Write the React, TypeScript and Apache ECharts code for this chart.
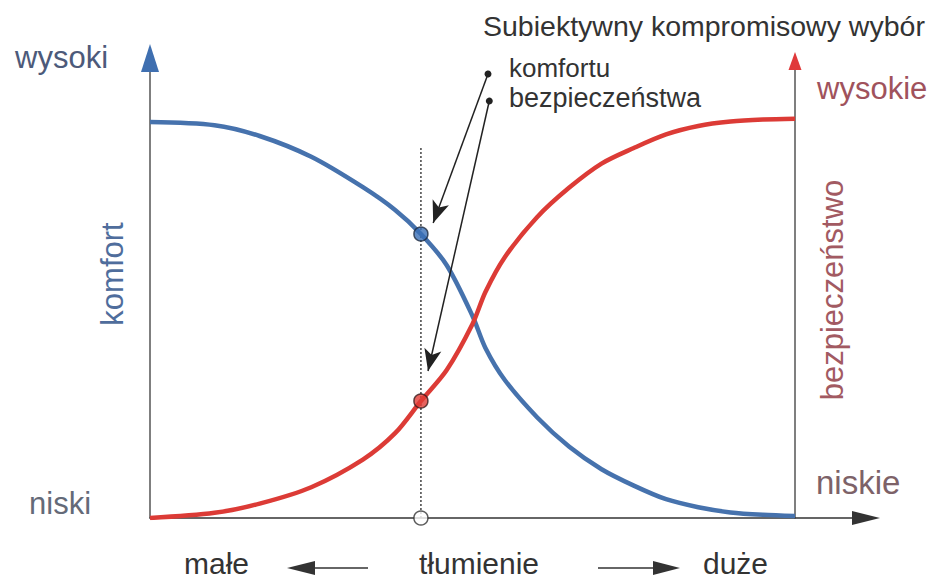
import React, { useEffect, useRef } from "react";
import * as echarts from "echarts";

// Damping level (0 = small, 100 = large)
const damping = [0, 10, 17, 25, 33, 38, 42, 46, 50, 52, 55, 60, 65, 70, 75, 80, 85, 90, 95, 100];
// Comfort level vs damping
const comfort = [99, 98.2, 95.5, 90.3, 82.7, 77, 71, 63.2, 50.5, 42.5, 34.5, 25.2, 17.8, 12.2, 8.1, 4.7, 2.7, 1.4, 0.8, 0.5];
// Safety level vs damping
const safety = [0, 1.3, 3.6, 7.7, 14.6, 21.2, 29.25, 37, 48.5, 56.5, 65.2, 75.2, 82.6, 88.6, 92.5, 95.9, 98, 99.1, 99.6, 99.8];

// Chosen compromise damping
const choice = 42;
const choiceComfort = 71;
const choiceSafety = 29.25;
const guideTop = 92.5;

// Callout pointers: [labelDot, arrowTip]
const comfortPointer = [[52.4, 111], [43.9, 73.75]];
const safetyPointer = [[52.6, 104.25], [43.1, 36.75]];

const FONT = '"Liberation Sans", Arial, sans-serif';
const BLUE = "#4672ad";
const RED = "#dc3b36";

export default function App() {
  const ref = useRef<HTMLDivElement>(null);

  useEffect(() => {
    if (!ref.current) return;
    const chart = echarts.init(ref.current, null, { renderer: "svg" });

    const comfortData = damping.map((x, i) => [x, comfort[i]]);
    const safetyData = damping.map((x, i) => [x, safety[i]]);

    const txt = (
      text: string,
      x: number,
      y: number,
      size: number,
      fill: string,
      extra: any = {}
    ) => ({
      type: "text",
      x,
      y,
      z: 100,
      silent: true,
      ...extra,
      style: {
        text,
        font: `${size}px ${FONT}`,
        fill,
        textAlign: extra.align || "left",
        textVerticalAlign: "middle",
      },
    });

    const pointerItem = (p: number[][]) => [
      { coord: p[0], symbol: "circle", symbolSize: 7 },
      { coord: p[1], symbol: "arrow", symbolSize: [13, 22] },
    ];

    const hiddenParts = {
      axisTick: { show: false },
      axisLabel: { show: false },
      splitLine: { show: false },
    };

    chart.setOption({
      animation: false,
      backgroundColor: "#ffffff",
      grid: [
        { left: 150, right: 69, top: 58, bottom: 63 },
        { left: 795, width: 10, top: 61, bottom: 63 },
      ],
      xAxis: [
        {
          type: "value",
          gridIndex: 0,
          min: 0,
          max: 111,
          axisLine: {
            show: true,
            symbol: ["none", "triangle"],
            symbolSize: [14, 28],
            lineStyle: { color: "#333", width: 1.5 },
          },
          ...hiddenParts,
        },
        { type: "value", gridIndex: 1, show: false, min: 0, max: 1 },
      ],
      yAxis: [
        {
          type: "value",
          gridIndex: 0,
          position: "left",
          min: 0,
          max: 115,
          axisLine: { show: true, lineStyle: { color: "#555", width: 1.5 } },
          ...hiddenParts,
        },
        {
          type: "value",
          gridIndex: 0,
          position: "left",
          min: 0,
          max: 115,
          axisLine: {
            show: true,
            symbol: ["none", "triangle"],
            symbolSize: [18, 28],
            lineStyle: { color: "#3f6fb0", opacity: 0 },
          },
          ...hiddenParts,
        },
        {
          type: "value",
          gridIndex: 1,
          position: "left",
          min: 0,
          max: 1,
          axisLine: { show: true, lineStyle: { color: "#555", width: 1.5 } },
          ...hiddenParts,
        },
        {
          type: "value",
          gridIndex: 1,
          position: "left",
          min: 0,
          max: 1,
          axisLine: {
            show: true,
            symbol: ["none", "triangle"],
            symbolSize: [13, 18],
            lineStyle: { color: "#e0393a", opacity: 0 },
          },
          ...hiddenParts,
        },
      ],
      series: [
        {
          name: "guide",
          type: "line",
          data: [
            [choice, 0],
            [choice, guideTop],
          ],
          showSymbol: false,
          silent: true,
          lineStyle: { color: "#444", width: 1.5, type: [2, 2] },
          z: 1,
          markLine: {
            silent: true,
            animation: false,
            label: { show: false },
            lineStyle: { color: "#222", width: 1.5, type: "solid" },
            emphasis: { disabled: true },
            data: [pointerItem(comfortPointer), pointerItem(safetyPointer)],
            z: 20,
          },
        },
        {
          name: "komfort",
          type: "line",
          data: comfortData,
          smooth: 0.3,
          showSymbol: false,
          silent: true,
          lineStyle: { color: BLUE, width: 4.5 },
          z: 3,
        },
        {
          name: "bezpieczeństwo",
          type: "line",
          data: safetyData,
          smooth: 0.3,
          showSymbol: false,
          silent: true,
          lineStyle: { color: RED, width: 4.5 },
          z: 4,
        },
        {
          type: "scatter",
          data: [[choice, choiceComfort]],
          symbolSize: 14,
          itemStyle: { color: "#3a6fb6", borderColor: "#1d2a40", borderWidth: 1.5 },
          silent: true,
          z: 10,
        },
        {
          type: "scatter",
          data: [[choice, choiceSafety]],
          symbolSize: 14,
          itemStyle: { color: "#e13c36", borderColor: "#3a1a1a", borderWidth: 1.5 },
          silent: true,
          z: 10,
        },
        {
          type: "scatter",
          data: [[choice, 0]],
          symbolSize: 14,
          itemStyle: { color: "#ffffff", borderColor: "#333", borderWidth: 1.5 },
          silent: true,
          z: 10,
        },
      ],
      graphic: [
        txt("wysoki", 15, 57, 31, "#4d5a7a"),
        txt("niski", 29, 503, 31, "#646a78"),
        txt("komfort", 112, 274, 31, "#4f6d9c", { rotation: Math.PI / 2, align: "center" }),
        txt("wysokie", 817, 88, 31, "#a0525c"),
        txt("niskie", 816, 482, 33, "#7d6268"),
        txt("bezpieczeństwo", 832, 290, 31, "#a25a62", { rotation: Math.PI / 2, align: "center" }),
        txt("Subiektywny kompromisowy wybór", 483, 26, 28.5, "#333"),
        txt("komfortu", 509, 68, 26, "#333"),
        txt("bezpieczeństwa", 509, 98, 27, "#333"),
        txt("małe", 184, 563, 30, "#333"),
        txt("tłumienie", 419, 563, 30, "#333"),
        txt("duże", 703, 563, 30, "#333"),
        {
          type: "line",
          shape: { x1: 310, y1: 568, x2: 368, y2: 568 },
          style: { stroke: "#333", lineWidth: 1.5 },
        },
        {
          type: "polygon",
          shape: { points: [[287, 568], [315, 561], [315, 575]] },
          style: { fill: "#333" },
        },
        {
          type: "line",
          shape: { x1: 598, y1: 568, x2: 658, y2: 568 },
          style: { stroke: "#333", lineWidth: 1.5 },
        },
        {
          type: "polygon",
          shape: { points: [[680, 568], [653, 561], [653, 575]] },
          style: { fill: "#333" },
        },
      ],
    });

    return () => chart.dispose();
  }, []);

  return (
    <div
      ref={ref}
      style={{ position: "fixed", left: 0, top: 0, width: 935, height: 581, background: "#fff" }}
    />
  );
}
